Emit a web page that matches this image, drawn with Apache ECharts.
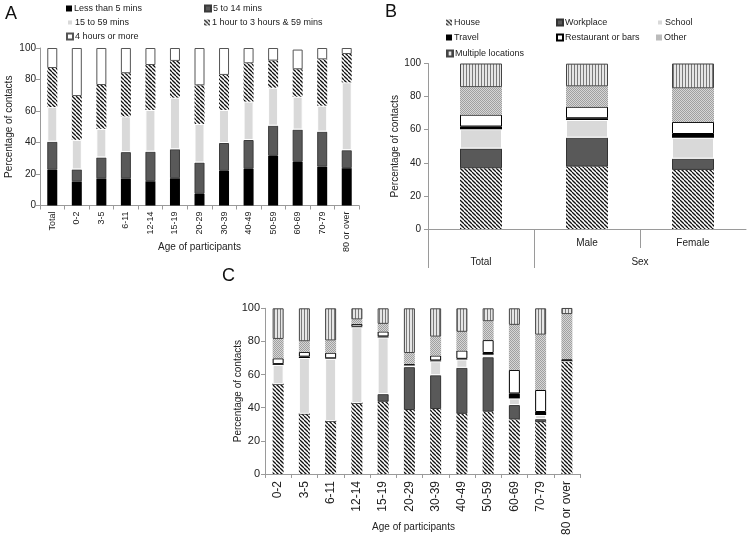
<!DOCTYPE html>
<html>
<head>
<meta charset="utf-8">
<script src="https://cdn.jsdelivr.net/npm/echarts@6/dist/echarts.min.js"></script>
<style>html,body{margin:0;padding:0;background:#fff;}#c{width:750px;height:538px;}</style>
</head>
<body>
<div id="c"></div>
<script>
// ---------- DATA ----------
const ageCatsA = ['Total','0-2','3-5','6-11','12-14','15-19','20-29','30-39','40-49','50-59','60-69','70-79','80 or over'];
const durNames = ['Less than 5 mins','5 to 14 mins','15 to 59 mins','1 hour to 3 hours & 59 mins','4 hours or more'];
const lt5     = [22.7,15.3,17.2,17.2,15.4,17.3, 7.4,22.0,23.3,31.5,27.7,24.7,23.7];
const m5to14  = [17.8, 7.6,13.3,16.7,18.8,18.4,19.9,17.7,18.3,19.2,20.5,22.2,11.4];
const m15to59 = [22.0,18.8,18.2,22.7,26.5,32.8,24.5,21.0,24.4,24.1,20.9,16.5,43.1];
const h1to4   = [24.8,27.8,27.8,27.4,28.5,23.3,24.5,22.2,24.3,17.2,17.4,29.4,18.0];
const h4plus  = [12.7,30.5,23.5,16.0,10.8, 8.2,23.7,17.1, 9.7, 8.0,12.5, 7.2, 3.8];

const locNames = ['House','Workplace','School','Travel','Restaurant or bars','Other','Multiple locations'];
const sexCats = ['Total','Male','Female'];
const sexGroups = ['Total','Sex'];
const bHouse = [36.7,37.7,35.7];
const bWork  = [11.9,17.5, 6.8];
const bSchool= [11.7,10.7,12.7];
const bTravel= [ 1.6, 1.0, 2.2];
const bRest  = [ 7.2, 7.0, 7.3];
const bOther = [16.6,12.3,20.3];
const bMulti = [14.3,13.7,15.0];

const ageCatsC = ['0-2','3-5','6-11','12-14','15-19','20-29','30-39','40-49','50-59','60-69','70-79','80 or over'];
const cHouse = [54.2,36.3,31.9,42.8,43.6,38.6,39.2,36.3,37.6,32.9,31.3,68.1];
const cWork  = [ 0.0, 0.0, 0.0, 0.0, 4.6,25.9,20.4,27.8,32.9, 8.7, 1.8, 0.0];
const cSchool= [11.6,33.7,37.6,45.8,34.2, 1.0, 8.4, 5.0, 1.5, 4.0, 2.5, 0.0];
const cTravel= [ 0.5, 0.8, 0.3, 0.3, 0.6, 0.3, 0.5, 0.4, 1.0, 3.0, 1.8, 0.0];
const cRest  = [ 3.5, 2.9, 3.4, 1.7, 3.0, 0.5, 3.0, 5.0, 7.8,14.2,13.3, 1.2];
const cOther = [11.7, 6.4, 7.4, 2.7, 4.6, 6.7,11.4,11.3,11.4,27.2,33.4,27.2];
const cMulti = [18.5,19.9,19.4, 6.7, 9.4,27.0,17.1,14.2, 7.8,10.0,15.9, 3.7];

// ---------- STYLE ----------
const FONT = "'Liberation Sans', Arial, sans-serif";
const TXT = '#222';
const AX = '#9a9a9a';
function tile(w,h,draw){const c=document.createElement('canvas');c.width=w;c.height=h;const g=c.getContext('2d');draw(g,w,h);return c;}
const hatchC = tile(4,4,(g,w,h)=>{g.fillStyle='#fff';g.fillRect(0,0,w,h);g.strokeStyle='#111';g.lineWidth=1.3;for(const x0 of [-w,0,w]){g.beginPath();g.moveTo(x0,0);g.lineTo(x0+w,h);g.stroke();}});
const vlineC = tile(3,3,(g,w,h)=>{g.fillStyle='#e6e6e6';g.fillRect(0,0,w,h);g.fillStyle='#7a7a7a';g.fillRect(1,0,1,h);});
const stipC = tile(2,2,(g,w,h)=>{g.fillStyle='#d6d6d6';g.fillRect(0,0,w,h);g.fillStyle='#a0a0a0';g.fillRect(0,0,1,1);g.fillRect(1,1,1,1);});
const HATCH = {image:hatchC,repeat:'repeat'};
const VLINE = {image:vlineC,repeat:'repeat'};
const STIP = {image:stipC,repeat:'repeat'};

const durStyles = [
  {color:'#000'},
  {color:'#595959',borderColor:'#3a3a3a',borderWidth:1},
  {color:'#d9d9d9',borderColor:'#fff',borderWidth:1},
  {color:HATCH},
  {color:'#fff',borderColor:'#555',borderWidth:1}
];
const locStyles = [
  {color:HATCH},
  {color:'#595959',borderColor:'#333',borderWidth:1},
  {color:'#d9d9d9',borderColor:'#fff',borderWidth:1},
  {color:'#000'},
  {color:'#fff',borderColor:'#000',borderWidth:1},
  {color:STIP},
  {color:VLINE,borderColor:'#444',borderWidth:1}
];
const durData = [lt5,m5to14,m15to59,h1to4,h4plus];
const bData = [bHouse,bWork,bSchool,bTravel,bRest,bOther,bMulti];
const cData = [cHouse,cWork,cSchool,cTravel,cRest,cOther,cMulti];

function yAxis(grid, fs, margin, gap){
  return {type:'value',gridIndex:grid,min:0,max:100,interval:20,
    axisLine:{show:true,lineStyle:{color:AX}},
    axisTick:{show:true,length:4,lineStyle:{color:AX}},
    splitLine:{show:false},
    axisLabel:{fontFamily:FONT,fontSize:fs,color:TXT,margin:margin},
    name:'Percentage of contacts',nameLocation:'middle',nameGap:gap,nameMoveOverlap:false,
    nameTextStyle:{fontFamily:FONT,fontSize:10,color:TXT}};
}

const series = [];
durNames.forEach((n,i)=>series.push({name:n,type:'bar',stack:'a',xAxisIndex:0,yAxisIndex:0,barWidth:10,
  data:durData[i],itemStyle:durStyles[i],silent:true}));
locNames.forEach((n,i)=>series.push({name:n,type:'bar',stack:'b',xAxisIndex:1,yAxisIndex:1,barWidth:42,
  data:bData[i],itemStyle:locStyles[i],silent:true}));
locNames.forEach((n,i)=>series.push({name:n,type:'bar',stack:'c',xAxisIndex:4,yAxisIndex:2,barWidth:11,
  data:cData[i],itemStyle:locStyles[i],silent:true}));

function leg(name,left,top){
  return {data:[name],left:left,top:top,padding:0,itemWidth:6,itemHeight:6,icon:'rect',selectedMode:false,
    textStyle:{fontFamily:FONT,fontSize:9,color:TXT,padding:[0,0,0,-3]}};
}
const legends = [
  leg(durNames[0],66,4), leg(durNames[1],204,4),
  leg(durNames[2],66,18), leg(durNames[3],204,18),
  leg(durNames[4],66,32),
  leg(locNames[0],446,18), leg(locNames[1],556,18), leg(locNames[2],656,18),
  leg(locNames[3],446,33), leg(locNames[4],556,33), leg(locNames[5],656,33),
  leg(locNames[6],446,49)
];

const titleStyle = {fontFamily:FONT,fontSize:18,fontWeight:'normal',color:'#111'};

const option = {
  animation:false,
  textStyle:{fontFamily:FONT},
  title:[
    {text:'A',left:5,top:5,padding:0,textStyle:titleStyle},
    {text:'B',left:385,top:3,padding:0,textStyle:titleStyle},
    {text:'C',left:222,top:267,padding:0,textStyle:titleStyle}
  ],
  legend:legends,
  grid:[
    {left:40,top:48,width:319,height:157.5},
    {left:428,top:63.5,width:318,height:165.5},
    {left:265,top:308.3,width:315,height:167.4}
  ],
  xAxis:[
    {type:'category',gridIndex:0,data:ageCatsA,
      axisLine:{lineStyle:{color:AX}},axisTick:{show:true,length:4,lineStyle:{color:AX}},
      axisLabel:{rotate:90,fontFamily:FONT,fontSize:9,color:TXT,margin:6,interval:0},
      name:'Age of participants',nameLocation:'middle',nameGap:37,nameMoveOverlap:false,
      nameTextStyle:{fontFamily:FONT,fontSize:10,color:TXT}},
    {type:'category',gridIndex:1,data:sexCats,
      axisLine:{lineStyle:{color:AX}},axisTick:{show:false},
      axisLabel:{fontFamily:FONT,fontSize:10,color:TXT,margin:9,interval:0,
        formatter:v=>v===sexGroups[0]?'':v}},
    {type:'value',gridIndex:1,min:0,max:3,position:'bottom',
      axisLine:{show:false},splitLine:{show:false},
      axisTick:{show:true,length:19,customValues:[2],lineStyle:{color:AX}},
      axisLabel:{show:false}},
    {type:'value',gridIndex:1,min:0,max:3,position:'bottom',
      axisLine:{show:false},splitLine:{show:false},
      axisTick:{show:true,length:39,customValues:[0,1],lineStyle:{color:AX}},
      axisLabel:{show:true,customValues:[0.5,2],fontFamily:FONT,fontSize:10,color:TXT,margin:28,
        formatter:v=>v<1?sexGroups[0]:sexGroups[1]}},
    {type:'category',gridIndex:2,data:ageCatsC,
      axisLine:{lineStyle:{color:AX}},axisTick:{show:true,length:4,lineStyle:{color:AX}},
      axisLabel:{rotate:90,fontFamily:FONT,fontSize:12,color:TXT,margin:7,interval:0},
      name:'Age of participants',nameLocation:'middle',nameGap:48,nameMoveOverlap:false,
      nameTextStyle:{fontFamily:FONT,fontSize:10,color:TXT,padding:[0,18,0,0]}}
  ],
  yAxis:[yAxis(0,10,4,26),yAxis(1,10,7,28),yAxis(2,11,5,22)],
  series:series
};
const chart = echarts.init(document.getElementById('c'),null,{renderer:'canvas'});
chart.setOption(option);
</script>
</body>
</html>
